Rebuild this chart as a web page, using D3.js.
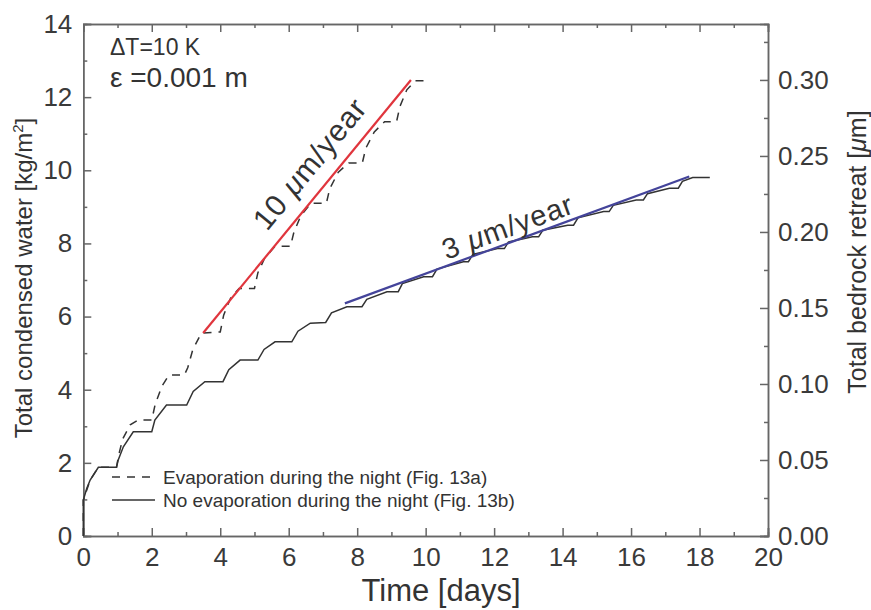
<!DOCTYPE html>
<html>
<head>
<meta charset="utf-8">
<script src="https://cdn.jsdelivr.net/npm/d3@7"></script>
<style>
	body{margin:0;background:#fff;}
	svg{display:block;font-family:"Liberation Sans",Arial,sans-serif;}
	.axis path,.axis line{stroke:#666;stroke-width:1.5;}
	.axis text{fill:#3a3a3a;font-size:26px;font-family:"Liberation Sans",Arial,sans-serif;}
</style>
</head>
<body>
<div id="chart"></div>
<script>
//Data
//Evaporation during the night (dashed)
const evapX = [0,0,0.2,0.44,0.97, 1.03,1.15,1.37,1.6,2.0, 2.1,2.3,2.5,2.95, 3.05,3.2,3.45,4.0,
	4.1,4.3,4.55,5.0, 5.1,5.3,5.6,6.05, 6.15,6.35,6.65,7.1, 7.2,7.45,7.75,8.15, 8.25,8.5,8.8,9.15, 9.25,9.45,9.7,9.98];
const evapY = [0,0.98,1.53,1.88,1.88, 2.2,2.65,3.04,3.17,3.17, 3.6,4.1,4.4,4.4, 4.6,5.1,5.55,5.58,
	6.04,6.5,6.77,6.77, 7.2,7.6,7.92,7.92, 8.3,8.75,9.1,9.1, 9.5,9.95,10.2,10.2, 10.6,11.05,11.33,11.33, 11.75,12.2,12.45,12.45];
//No evaporation during the night (solid)
const noEvapX = [0,0,0.1,0.2,0.44,0.97, 1.02,1.17,1.46,2.0, 2.09,2.43,3.02, 3.21,3.55,4.08, 4.25,4.58,5.1,
	5.28,5.6,6.09, 6.27,6.63,7.08, 7.25,7.7,8.14, 8.28,8.87,9.2, 9.32,9.94,10.2, 10.33,11.1,11.25,
	11.38,12.1,12.3, 12.42,13.12,13.3, 13.42,14.15,14.32, 14.45,15.2,15.36, 15.48,16.15,16.36,
	16.48,17.12,17.38, 17.5,17.8,18.3];
const noEvapY = [0,0.98,1.3,1.53,1.88,1.88, 2.08,2.44,2.85,2.85, 3.17,3.58,3.58, 3.95,4.22,4.22, 4.55,4.81,4.81,
	5.1,5.31,5.31, 5.6,5.82,5.84, 6.1,6.27,6.27, 6.47,6.68,6.68, 6.9,7.09,7.09, 7.3,7.5,7.5,
	7.7,7.86,7.86, 8.04,8.18,8.18, 8.36,8.5,8.5, 8.7,8.87,8.87, 9.04,9.19,9.19,
	9.36,9.51,9.51, 9.7,9.8,9.8];
//Linear fits
const fitFastX = [3.5,9.57];
const fitFastY = [5.55,12.47];
const fitSlowX = [7.64,17.7];
const fitSlowY = [6.36,9.83];

//Tick labels
const xTicks = [0,2,4,6,8,10,12,14,16,18,20];
const yTicks = [0,2,4,6,8,10,12,14];
const y2Ticks = [0,0.05,0.10,0.15,0.20,0.25,0.30];

const width = 871;
const height = 610;
const margin = {t:24,r:103,b:74,l:83.3};
const w = width - margin.l - margin.r;
const h = height - margin.t - margin.b;

const svg = d3.select('#chart').append('svg')
	.attr('width',width)
	.attr('height',height);

const plot = svg.append('g')
	.attr('transform',`translate(${margin.l},${margin.t})`);

//Scales
const scaleX = d3.scaleLinear().domain([0,20]).range([0,w]);
const scaleY = d3.scaleLinear().domain([0,14]).range([h,0]);
const scaleY2 = d3.scaleLinear().domain([0,0.3368]).range([h,0]);

//Axes, ticks pointing inward; minor ticks drawn as a second axis without labels
const major = 8, minor = 4;
const xMinor = d3.range(1,20,2);
const yMinor = d3.range(1,14,2);
const y2Minor = d3.range(0.025,0.33,0.05);

function addAxis(gen,tr){
	const g = plot.append('g').attr('class','axis');
	if(tr) g.attr('transform',tr);
	g.call(gen);
	return g;
}

//bottom
const axB = addAxis(d3.axisBottom(scaleX).tickValues(xTicks).tickSize(-major).tickPadding(12).tickFormat(d3.format('d')),`translate(0,${h})`);
addAxis(d3.axisBottom(scaleX).tickValues(xMinor).tickSize(-minor).tickFormat(''),`translate(0,${h})`);
//top
addAxis(d3.axisTop(scaleX).tickValues(xTicks).tickSize(-major).tickFormat(''));
addAxis(d3.axisTop(scaleX).tickValues(xMinor).tickSize(-minor).tickFormat(''));
//left
addAxis(d3.axisLeft(scaleY).tickValues(yTicks).tickSize(-major).tickPadding(11).tickFormat(d3.format('d')));
addAxis(d3.axisLeft(scaleY).tickValues(yMinor).tickSize(-minor).tickFormat(''));
//right
addAxis(d3.axisRight(scaleY2).tickValues(y2Ticks).tickSize(-major).tickPadding(10).tickFormat(d3.format('.2f')),`translate(${w},0)`);
addAxis(d3.axisRight(scaleY2).tickValues(y2Minor).tickSize(-minor).tickFormat(''),`translate(${w},0)`);

plot.selectAll('.axis .domain').attr('stroke','#666');
axB.selectAll('text').attr('dy','0.71em');

//Curves
const line = d3.line()
	.x(d => scaleX(d[0]))
	.y(d => scaleY(d[1]));

const evap = d3.zip(evapX,evapY);
const noEvap = d3.zip(noEvapX,noEvapY);

plot.append('path')
	.datum(evap)
	.attr('d',line)
	.attr('fill','none')
	.attr('stroke','#333')
	.attr('stroke-width',1.5)
	.attr('stroke-dasharray','8,7');

plot.append('path')
	.datum(noEvap)
	.attr('d',line)
	.attr('fill','none')
	.attr('stroke','#333')
	.attr('stroke-width',1.5);

plot.append('path')
	.datum(d3.zip(fitFastX,fitFastY))
	.attr('d',line)
	.attr('fill','none')
	.attr('stroke','#e0353d')
	.attr('stroke-width',2.2);

plot.append('path')
	.datum(d3.zip(fitSlowX,fitSlowY))
	.attr('d',line)
	.attr('fill','none')
	.attr('stroke','#44449a')
	.attr('stroke-width',2.2);

//Rate labels, rotated along the fit lines
function slopeAngle(xs,ys){
	const dx = scaleX(xs[1]) - scaleX(xs[0]);
	const dy = scaleY(ys[1]) - scaleY(ys[0]);
	return Math.atan2(dy,dx)*180/Math.PI;
}
function rateLabel(num,x,y,ang,size){
	const t = plot.append('text')
		.attr('transform',`translate(${scaleX(x)},${scaleY(y)}) rotate(${ang})`)
		.attr('text-anchor','middle')
		.attr('fill','#333')
		.style('letter-spacing','1px')
		.style('font-size',size+'px');
	t.append('tspan').text(num+' ');
	t.append('tspan').text('\u03bc').style('font-style','italic');
	t.append('tspan').text('m/year');
}
rateLabel('10',6.85,10.0,slopeAngle(fitFastX,fitFastY),30);
rateLabel('3',12.5,8.2,slopeAngle(fitSlowX,fitSlowY),29);

//Parameters
svg.append('text').attr('x',110).attr('y',55).attr('fill','#333')
	.style('font-size','23px').text('\u0394T=10 K');
svg.append('text').attr('x',110).attr('y',87).attr('fill','#333')
	.style('font-size','28px').text('\u03b5 =0.001 m');

//Legend
const legend = svg.append('g').attr('transform','translate(112,477)');
const legendItems = [
	{label:'Evaporation during the night (Fig. 13a)',dash:'8,7'},
	{label:'No evaporation during the night (Fig. 13b)',dash:null}
];
legendItems.forEach((d,i) => {
	legend.append('line')
		.attr('x1',0).attr('x2',43)
		.attr('y1',i*23).attr('y2',i*23)
		.attr('stroke','#333')
		.attr('stroke-width',1.5)
		.attr('stroke-dasharray',d.dash);
	legend.append('text')
		.attr('x',51).attr('y',i*23+7)
		.attr('fill','#333')
		.style('font-size','19px')
		.text(d.label);
});

//Axis titles
svg.append('text')
	.attr('x',441).attr('y',601)
	.attr('text-anchor','middle')
	.attr('fill','#333')
	.style('font-size','31px')
	.text('Time [days]');

const yTitle = svg.append('text')
	.attr('transform','translate(32,278) rotate(-90)')
	.attr('text-anchor','middle')
	.attr('fill','#333')
	.style('font-size','24px');
yTitle.append('tspan').text('Total condensed water [kg/m');
yTitle.append('tspan').text('2').attr('dy',-9).style('font-size','15px');
yTitle.append('tspan').text(']').attr('dy',9);

const y2Title = svg.append('text')
	.attr('transform','translate(866,252) rotate(-90)')
	.attr('text-anchor','middle')
	.attr('fill','#333')
	.style('font-size','25px');
y2Title.append('tspan').text('Total bedrock retreat [');
y2Title.append('tspan').text('\u03bc').style('font-style','italic');
y2Title.append('tspan').text('m]');
</script>
</body>
</html>
